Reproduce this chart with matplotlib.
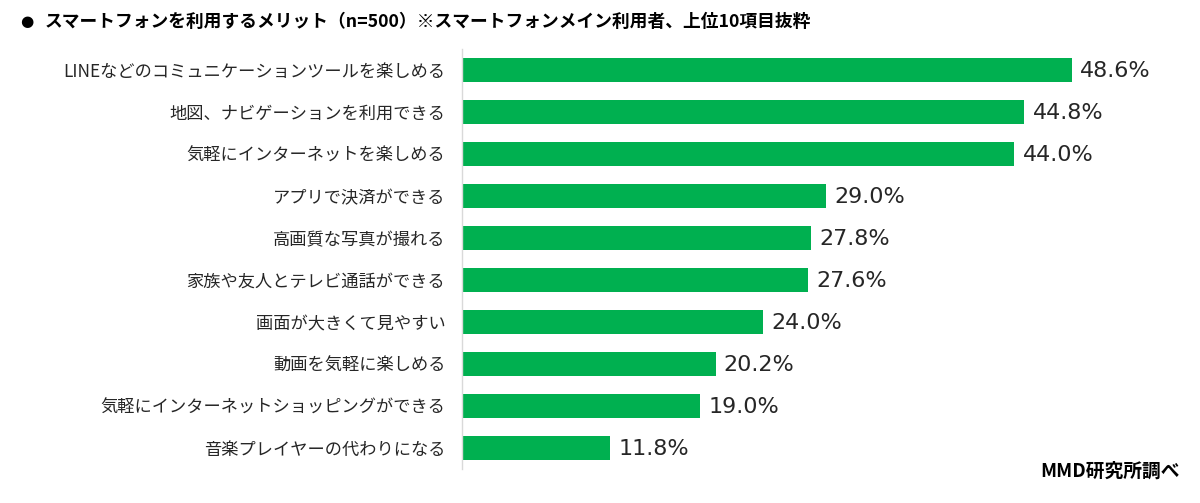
import matplotlib
matplotlib.use("Agg")
import matplotlib.pyplot as plt

plt.rcParams['font.family'] = ['Noto Sans CJK JP', 'DejaVu Sans']

categories = [
    "LINEなどのコミュニケーションツールを楽しめる",
    "地図、ナビゲーションを利用できる",
    "気軽にインターネットを楽しめる",
    "アプリで決済ができる",
    "高画質な写真が撮れる",
    "家族や友人とテレビ通話ができる",
    "画面が大きくて見やすい",
    "動画を気軽に楽しめる",
    "気軽にインターネットショッピングができる",
    "音楽プレイヤーの代わりになる",
]
values = [48.6, 44.8, 44.0, 29.0, 27.8, 27.6, 24.0, 20.2, 19.0, 11.8]
title = "スマートフォンを利用するメリット（n=500）※スマートフォンメイン利用者、上位10項目抜粋"
source = "MMD研究所調べ"

W, H = 1200, 503
fig = plt.figure(figsize=(W / 100, H / 100), dpi=100)
left_px, right_px = 462, 462 + 50 * 12.55
top_px, bot_px = 49, 469
ax = fig.add_axes([left_px / W, 1 - bot_px / H, (right_px - left_px) / W, (bot_px - top_px) / H])

green = "#00B050"
ypos = list(range(len(categories)))
bars = ax.barh(ypos, values, height=0.57, color=green)
ax.set_xlim(0, 50)
ax.set_ylim(len(categories) - 0.5, -0.5)

ax.set_yticks(ypos)
ax.set_yticklabels(categories, fontsize=12.4, color="#262626")
ax.tick_params(axis='y', length=0, pad=12)
ax.set_xticks([])
for s in ["top", "right", "bottom"]:
    ax.spines[s].set_visible(False)
ax.spines["left"].set_color("#D9D9D9")
ax.spines["left"].set_linewidth(1.0)

for b, v in zip(bars, values):
    ax.annotate(f"{v:.1f}%", xy=(b.get_width(), b.get_y() + b.get_height() / 2),
                xytext=(6, -1), textcoords="offset points", va="center", ha="left",
                fontsize=16, color="#262626", family=['DejaVu Sans'])

fig.text(20 / W, 1 - 22 / H, "●", fontsize=11, color="black", va="center", ha="left",
         family=['DejaVu Sans'])
fig.text(45 / W, 1 - 22 / H, title, fontsize=12.75, fontweight="bold", color="black",
         va="center", ha="left")
fig.text(1180 / W, 1 - 471 / H, source, fontsize=13.5, fontweight="bold", color="black",
         va="center", ha="right")

fig.savefig("out.png", dpi=100, facecolor="white")
